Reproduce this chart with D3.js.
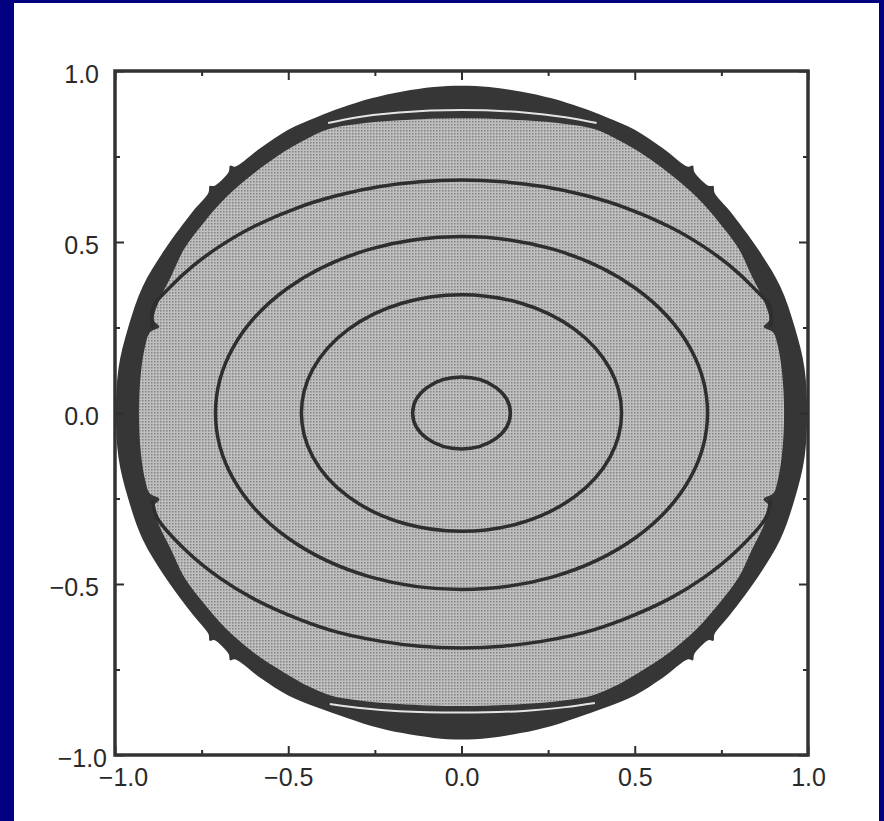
<!DOCTYPE html>
<html>
<head>
<meta charset="utf-8">
<script src="https://cdn.jsdelivr.net/npm/d3@7"></script>
<style>
  html, body { margin: 0; padding: 0; background: #000080; }
  svg { display: block; }
</style>
</head>
<body>
<div id="chart"></div>
<script>
// Data (data units)
var majorTicks = [-1, -0.5, 0, 0.5, 1];
var minorTicks = [-0.75, -0.25, 0.25, 0.75];

// outer edge of the dark ring
var outerRing = [
  [-0.997, 0.0], [-0.99, 0.13], [-0.962, 0.25], [-0.92, 0.37], [-0.855, 0.48],
  [-0.775, 0.59], [-0.73, 0.645], [-0.727, 0.664], [-0.714, 0.664], [-0.672, 0.705],
  [-0.668, 0.723], [-0.654, 0.72], [-0.58, 0.775], [-0.5, 0.828], [-0.42, 0.864],
  [-0.345, 0.893], [-0.26, 0.92], [-0.17, 0.94], [-0.08, 0.953], [0.0, 0.957],
  [0.08, 0.953], [0.17, 0.94], [0.26, 0.92], [0.345, 0.893], [0.42, 0.864],
  [0.5, 0.828], [0.58, 0.775], [0.654, 0.72], [0.668, 0.723], [0.672, 0.705],
  [0.714, 0.664], [0.727, 0.664], [0.73, 0.645], [0.775, 0.59], [0.855, 0.48],
  [0.92, 0.37], [0.962, 0.25], [0.99, 0.13], [0.997, 0.0],
  [0.99, -0.13], [0.962, -0.25], [0.92, -0.37], [0.855, -0.48], [0.775, -0.59],
  [0.73, -0.647], [0.727, -0.666], [0.714, -0.664], [0.672, -0.705], [0.668, -0.723],
  [0.654, -0.72], [0.58, -0.775], [0.5, -0.826], [0.42, -0.86], [0.355, -0.883],
  [0.26, -0.915], [0.17, -0.936], [0.08, -0.95], [0.0, -0.955],
  [-0.08, -0.95], [-0.17, -0.936], [-0.26, -0.915], [-0.355, -0.883], [-0.42, -0.86],
  [-0.5, -0.826], [-0.58, -0.775], [-0.654, -0.72], [-0.668, -0.723], [-0.672, -0.705],
  [-0.714, -0.664], [-0.727, -0.666], [-0.73, -0.647], [-0.775, -0.59], [-0.855, -0.48],
  [-0.92, -0.37], [-0.962, -0.25], [-0.99, -0.13]
];

// edge of the shaded (gray) region
var innerRegion = [
  [-0.931, 0.0], [-0.925, 0.12], [-0.912, 0.2], [-0.9, 0.235], [-0.872, 0.252],
  [-0.888, 0.272], [-0.872, 0.33], [-0.838, 0.4], [-0.8, 0.48], [-0.745, 0.555],
  [-0.68, 0.63], [-0.6, 0.7], [-0.51, 0.765], [-0.44, 0.805], [-0.385, 0.83],
  [-0.3, 0.845], [-0.18, 0.856], [0.0, 0.862],
  [0.18, 0.856], [0.3, 0.845], [0.385, 0.83], [0.44, 0.805], [0.51, 0.765],
  [0.6, 0.7], [0.68, 0.63], [0.745, 0.555], [0.8, 0.48], [0.838, 0.4],
  [0.872, 0.33], [0.888, 0.272], [0.872, 0.252], [0.9, 0.235], [0.912, 0.2],
  [0.925, 0.12], [0.931, 0.0],
  [0.925, -0.12], [0.912, -0.2], [0.9, -0.235], [0.872, -0.252], [0.888, -0.272],
  [0.872, -0.33], [0.838, -0.4], [0.8, -0.48], [0.745, -0.555], [0.68, -0.63],
  [0.6, -0.7], [0.51, -0.76], [0.44, -0.8], [0.38, -0.825], [0.3, -0.84],
  [0.18, -0.851], [0.0, -0.857],
  [-0.18, -0.851], [-0.3, -0.84], [-0.38, -0.825], [-0.44, -0.8], [-0.51, -0.76],
  [-0.6, -0.7], [-0.68, -0.63], [-0.745, -0.555], [-0.8, -0.48], [-0.838, -0.4],
  [-0.872, -0.33], [-0.888, -0.272], [-0.872, -0.252], [-0.9, -0.235], [-0.912, -0.2],
  [-0.925, -0.12]
];

// thin white lines inside the top and bottom caps
var whiteTop = [[-0.385, 0.848], [-0.3, 0.865], [-0.18, 0.879], [0.0, 0.886], [0.18, 0.879], [0.3, 0.865], [0.39, 0.848]];
var whiteBottom = [[-0.38, -0.851], [-0.3, -0.862], [-0.18, -0.872], [0.0, -0.876], [0.18, -0.871], [0.3, -0.86], [0.385, -0.848]];

// closed contours (ellipses round the origin): half widths and half heights
var ellipseRx = [0.141, 0.462, 0.71];
var ellipseRy = [0.105, 0.346, 0.516];

// outermost contour, cut off by the ring
var contourTop = [
  [-0.892, 0.251], [-0.89, 0.31], [-0.841, 0.368], [-0.775, 0.43], [-0.697, 0.488],
  [-0.602, 0.544], [-0.466, 0.603], [-0.35, 0.638], [-0.235, 0.662], [-0.12, 0.676],
  [0.0, 0.681], [0.12, 0.676], [0.235, 0.662], [0.35, 0.638], [0.466, 0.603],
  [0.602, 0.544], [0.697, 0.488], [0.775, 0.43], [0.841, 0.368], [0.89, 0.31],
  [0.892, 0.251]
];
var contourBottom = [
  [-0.892, -0.254], [-0.879, -0.305], [-0.792, -0.405], [-0.697, -0.483], [-0.602, -0.542],
  [-0.466, -0.604], [-0.35, -0.643], [-0.235, -0.667], [-0.12, -0.682], [0.0, -0.687],
  [0.12, -0.682], [0.235, -0.667], [0.35, -0.643], [0.466, -0.604], [0.602, -0.542],
  [0.697, -0.483], [0.792, -0.405], [0.879, -0.305], [0.892, -0.254]
];

var W = 884, H = 821;
var frame = { left: 115, right: 808, top: 71, bottom: 755 };
var ink = "#2e2e2e";

var svg = d3.select("#chart").append("svg")
  .attr("width", W)
  .attr("height", H);

// halftone look for the shaded region
var defs = svg.append("defs");
var pat = defs.append("pattern")
  .attr("id", "halftone")
  .attr("width", 3).attr("height", 3)
  .attr("patternUnits", "userSpaceOnUse");
pat.append("rect").attr("width", 3).attr("height", 3).attr("fill", "#bfbfbf");
pat.append("rect").attr("x", 1).attr("y", 1).attr("width", 1.5).attr("height", 1.5).attr("fill", "#828282");

// navy border, white page
svg.append("rect").attr("width", W).attr("height", H).attr("fill", "#000080");
svg.append("rect").attr("x", 14).attr("y", 3).attr("width", 865).attr("height", H - 3).attr("fill", "#ffffff");

var x = d3.scaleLinear().domain([-1, 1]).range([frame.left, frame.right]);
var y = d3.scaleLinear().domain([-1, 1]).range([frame.bottom, frame.top]);

var line = d3.line()
  .x(function (d) { return x(d[0]); })
  .y(function (d) { return y(d[1]); });

// dark ring
svg.append("path")
  .datum(outerRing)
  .attr("d", line.curve(d3.curveCatmullRomClosed.alpha(0.5)))
  .attr("fill", "#363636");

// gray region
svg.append("path")
  .datum(innerRegion)
  .attr("d", line.curve(d3.curveCatmullRomClosed.alpha(0.5)))
  .attr("fill", "url(#halftone)");

// white lines in the caps
[whiteTop, whiteBottom].forEach(function (pts) {
  svg.append("path")
    .datum(pts)
    .attr("d", line.curve(d3.curveCatmullRom))
    .attr("fill", "none")
    .attr("stroke", "#e4e4e4")
    .attr("stroke-width", 2);
});

// closed contours
svg.selectAll(".contour")
  .data(ellipseRx)
  .enter()
  .append("ellipse")
  .attr("class", "contour")
  .attr("cx", x(0))
  .attr("cy", y(0))
  .attr("rx", function (d) { return x(d) - x(0); })
  .attr("ry", function (d, i) { return y(0) - y(ellipseRy[i]); })
  .attr("fill", "none")
  .attr("stroke", ink)
  .attr("stroke-width", 3.5);

// open contour arcs
[contourTop, contourBottom].forEach(function (pts) {
  svg.append("path")
    .datum(pts)
    .attr("d", line.curve(d3.curveCatmullRom.alpha(0.5)))
    .attr("fill", "none")
    .attr("stroke", ink)
    .attr("stroke-width", 3.5);
});

// axes, ticks pointing inward on all four sides
var fmt = d3.format(".1f");
var axes = [
  { axis: d3.axisBottom(x), at: "translate(0," + frame.bottom + ")", labels: true, pad: 13 },
  { axis: d3.axisTop(x), at: "translate(0," + frame.top + ")", labels: false, pad: 3 },
  { axis: d3.axisLeft(y), at: "translate(" + frame.left + ",0)", labels: true, pad: 16 },
  { axis: d3.axisRight(y), at: "translate(" + frame.right + ",0)", labels: false, pad: 3 }
];
axes.forEach(function (a, i) {
  var g = svg.append("g").attr("transform", a.at);
  g.call(a.axis.tickValues(minorTicks).tickSize(-5).tickFormat(""));
  g.select(".domain").remove();
  g.selectAll("line").attr("stroke", ink).attr("stroke-width", 2);

  var g2 = svg.append("g").attr("class", "axis-" + i).attr("transform", a.at);
  g2.call(a.axis.tickValues(majorTicks).tickSize(-9)
    .tickPadding(a.pad)
    .tickFormat(a.labels ? fmt : ""));
  g2.select(".domain").remove();
  g2.selectAll("line").attr("stroke", ink).attr("stroke-width", 2);
  g2.selectAll("text")
    .attr("fill", "#2a2a2a")
    .style("font-family", "'Liberation Sans', Arial, Helvetica, sans-serif")
    .style("font-size", "25px");
});

// left labels sit a bit lower than their ticks
svg.select(".axis-2").selectAll("text").attr("dy", "0.46em");

// the two -1.0 labels are nudged right in the original
svg.selectAll("text").filter(function (d) { return d === -1; })
  .attr("dx", 8);

// frame
svg.append("rect")
  .attr("x", x(-1)).attr("y", y(1))
  .attr("width", x(1) - x(-1))
  .attr("height", y(-1) - y(1))
  .attr("fill", "none")
  .attr("stroke", "#333")
  .attr("stroke-width", 3.5);
</script>
</body>
</html>
